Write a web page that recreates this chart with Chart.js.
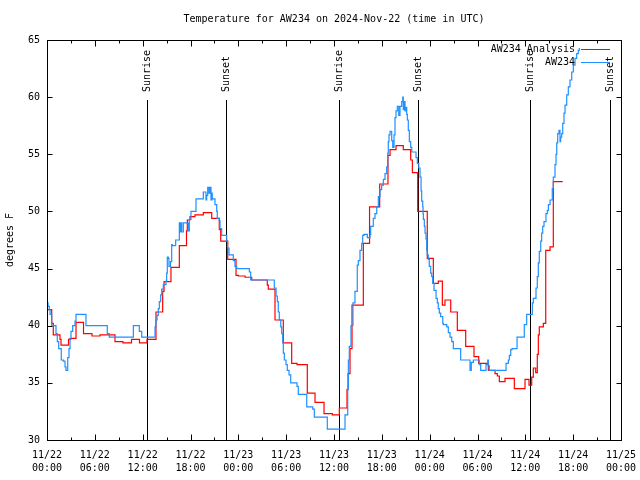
<!DOCTYPE html>
<html>
<head>
<meta charset="utf-8">
<title>Temperature for AW234</title>
<script src="https://cdn.jsdelivr.net/npm/chart.js@4.4.1/dist/chart.umd.min.js"></script>
<style>
  html, body { margin: 0; padding: 0; background: #fff; }
</style>
</head>
<body>
<canvas id="temp-chart" width="640" height="480"></canvas>
<script>
// hours are counted from 11/22 00:00 UTC

const xTickHours = [0, 6, 12, 18, 24, 30, 36, 42, 48, 54, 60, 66, 72];
const xTickDays = ["11/22", "11/22", "11/22", "11/22", "11/23", "11/23", "11/23", "11/23", "11/24", "11/24", "11/24", "11/24", "11/25"];
const xTickTimes = ["00:00", "06:00", "12:00", "18:00", "00:00", "06:00", "12:00", "18:00", "00:00", "06:00", "12:00", "18:00", "00:00"];
const yTicks = [30, 35, 40, 45, 50, 55, 60, 65];

const eventHours = [12.58, 22.49, 36.67, 46.58, 60.62, 70.58];
const eventNames = ["Sunrise", "Sunset", "Sunrise", "Sunset", "Sunrise", "Sunset"];

const analysisHours = [0, 0.59, 0.79, 1.63, 1.76, 2.70, 2.89, 3.64, 4.58, 5.64, 6.65, 8.53, 9.53, 10.60, 11.60, 12.54,
  13.67, 14.51, 14.68, 15.55, 16.60, 17.50, 17.60, 17.94, 18.56, 19.61, 20.66, 21.61, 21.79, 22.67, 23.71, 24.00,
  24.84, 25.68, 27.63, 27.76, 28.60, 29.64, 30.69, 31.36, 32.65, 33.62, 34.75, 35.79, 36.67, 37.63, 37.76, 38.01,
  38.26, 39.68, 40.46, 41.73, 42.77, 43.03, 43.78, 44.69, 45.62, 45.83, 46.50, 47.70, 48.46, 49.08, 49.59, 49.92,
  50.64, 51.47, 52.52, 53.56, 54.15, 55.36, 56.20, 56.49, 56.74, 57.45, 58.62, 59.96, 60.46, 60.80, 61.00, 61.30,
  61.50, 61.63, 61.75, 62.26, 62.56, 63.10, 63.51, 64.69];
const analysisTemps = [41.4, 40.2, 39.2, 38.8, 38.3, 38.8, 38.9, 40.3, 39.3, 39.1, 39.2, 38.6, 38.5, 38.8, 38.5, 38.8,
  41.2, 43.0, 43.85, 45.1, 47.0, 48.3, 49.25, 49.55, 49.7, 49.9, 49.4, 48.4, 47.4, 45.8, 44.4, 44.35,
  44.24, 44.0, 43.56, 43.2, 40.5, 38.5, 36.7, 36.6, 34.1, 33.3, 32.3, 32.2, 32.8, 34.4, 35.8, 38.0,
  41.8, 47.2, 50.4, 52.4, 54.9, 55.4, 55.75, 55.4, 54.5, 53.4, 50.0, 45.9, 43.7, 43.9, 41.8, 42.25,
  41.2, 39.6, 38.2, 37.3, 36.7, 36.1, 35.8, 35.6, 35.1, 35.4, 34.5, 35.3, 34.8, 35.5, 36.3, 35.9,
  37.5, 39.2, 39.9, 40.2, 46.6, 46.9, 52.6, 52.6];

const stationHours = [0, 0.13, 0.29, 0.38, 0.59, 1.13, 1.29, 1.47, 1.79, 2.04, 2.26, 2.38, 2.60, 2.76, 2.89, 3.01,
  3.22, 3.51, 3.64, 4.89, 7.56, 7.81, 10.83, 11.58, 11.88, 13.55, 13.67, 13.80, 13.96, 14.09, 14.26, 14.39,
  14.59, 14.93, 15.01, 15.09, 15.22, 15.30, 15.49, 15.64, 15.72, 16.14, 16.60, 16.68, 16.81, 16.90, 17.10, 17.72,
  17.85, 18.06, 18.69, 19.61, 19.94, 20.03, 20.16, 20.32, 20.45, 20.57, 20.70, 20.73, 21.07, 21.29, 21.36, 21.61,
  21.70, 21.91, 22.54, 22.64, 22.83, 23.37, 23.58, 23.80, 25.38, 25.55, 28.51, 28.73, 28.89, 29.01, 29.14, 29.32,
  29.44, 29.57, 29.64, 29.77, 29.98, 30.14, 30.36, 30.57, 31.36, 31.52, 32.58, 33.33, 33.53, 35.16, 37.38, 37.72,
  37.80, 37.92, 38.13, 38.38, 38.63, 38.92, 39.05, 39.26, 39.47, 39.60, 39.76, 40.18, 40.52, 40.60, 40.93, 41.14,
  41.36, 41.56, 41.77, 41.98, 42.19, 42.40, 42.61, 42.74, 42.81, 42.90, 43.03, 43.24, 43.37, 43.53, 43.65, 43.78,
  43.94, 44.12, 44.28, 44.49, 44.62, 44.69, 44.82, 44.91, 45.03, 45.12, 45.20, 45.32, 45.45, 45.62, 45.75, 46.29,
  46.45, 46.63, 46.79, 46.92, 47.00, 47.13, 47.17, 47.21, 47.33, 47.42, 47.54, 47.63, 47.70, 47.83, 47.95, 48.13,
  48.26, 48.38, 48.55, 48.80, 48.96, 49.08, 49.21, 49.38, 49.64, 49.71, 50.14, 50.34, 50.55, 50.77, 50.97, 51.89,
  53.06, 53.22, 53.48, 54.23, 54.40, 55.07, 55.28, 55.36, 55.48, 57.58, 57.87, 57.99, 58.17, 58.33, 58.96, 59.87,
  60.17, 60.88, 61.00, 61.34, 61.50, 61.63, 61.75, 61.93, 62.05, 62.18, 62.34, 62.59, 62.76, 62.89, 63.10, 63.38,
  63.51, 63.72, 63.85, 63.94, 64.06, 64.22, 64.35, 64.43, 64.56, 64.69, 64.85, 64.98, 65.19, 65.39, 65.60, 65.82,
  66.02, 66.23, 66.44, 66.64, 66.77];
const stationTemps = [42.0, 41.7, 41.4, 41.0, 40.0, 39.3, 38.6, 38.0, 37.0, 36.9, 36.4, 36.1, 37.2, 38.0, 38.8, 39.5,
  40.0, 40.4, 41.0, 40.0, 39.3, 39.0, 40.0, 39.5, 39.0, 39.9, 40.5, 40.9, 41.5, 42.1, 42.7, 43.2,
  43.6, 43.9, 44.6, 46.0, 45.9, 45.2, 45.6, 47.1, 47.0, 47.5, 49.0, 48.2, 49.0, 48.2, 49.0, 48.3,
  49.3, 50.0, 51.1, 51.7, 51.0, 51.4, 52.1, 51.6, 52.1, 51.0, 51.6, 51.1, 50.6, 50.0, 49.4, 49.2,
  48.5, 47.9, 47.4, 46.8, 46.2, 45.7, 45.2, 45.0, 44.7, 44.0, 43.3, 42.6, 42.1, 41.2, 40.5, 39.9,
  39.3, 38.5, 37.6, 37.0, 36.6, 36.1, 35.7, 35.0, 34.7, 34.0, 32.9, 32.7, 32.0, 30.95, 32.2, 34.5,
  37.0, 38.2, 40.0, 42.0, 43.0, 45.3, 45.7, 46.6, 47.2, 47.9, 48.0, 47.7, 48.0, 48.7, 49.4, 49.8,
  50.4, 51.3, 51.9, 52.3, 52.8, 53.3, 53.9, 55.1, 56.1, 56.7, 57.0, 56.2, 55.6, 56.7, 58.2, 58.8,
  59.2, 58.4, 59.2, 59.6, 60.0, 58.9, 59.6, 58.8, 59.1, 58.5, 58.0, 57.1, 56.1, 55.6, 55.2, 54.7,
  54.2, 53.8, 53.0, 51.8, 50.9, 50.4, 49.8, 49.3, 48.7, 48.1, 47.6, 46.6, 46.2, 45.8, 45.2, 44.6,
  44.3, 43.7, 43.1, 42.4, 42.0, 41.5, 41.1, 40.8, 40.2, 40.1, 39.9, 39.4, 39.0, 38.6, 38.0, 37.0,
  36.1, 36.8, 37.0, 36.6, 36.1, 36.6, 37.0, 36.5, 36.1, 36.7, 37.0, 37.4, 37.9, 38.0, 39.0, 40.1,
  41.0, 42.0, 42.4, 43.3, 44.3, 45.5, 46.5, 47.4, 48.1, 48.7, 49.1, 49.8, 50.1, 50.6, 51.0, 52.0,
  53.0, 54.1, 55.0, 56.0, 56.8, 57.1, 56.1, 56.5, 56.8, 57.7, 58.6, 59.3, 60.2, 60.9, 61.5, 62.2,
  62.8, 63.4, 63.8, 64.1, 64.3];

const FONT_FAMILY = "'DejaVu Sans Mono', 'Liberation Mono', monospace";
const baseFont = { family: FONT_FAMILY, size: 10, weight: 'normal' };

function toPoints(hours, temps) {
  return hours.map((h, i) => ({ x: h, y: temps[i] }));
}

// gnuplot style: frame, inward ticks, sunrise/sunset markers, key in the corner
const gnuplotLook = {
  id: 'gnuplotLook',
  beforeDatasetsDraw(chart) {
    const { ctx, chartArea: a, scales: { x } } = chart;
    ctx.save();
    ctx.strokeStyle = '#000';
    ctx.fillStyle = '#000';
    ctx.lineWidth = 1;
    ctx.font = `10px ${FONT_FAMILY}`;
    eventHours.forEach((h, i) => {
      const px = Math.round(x.getPixelForValue(h)) + 0.5;
      ctx.beginPath();
      ctx.moveTo(px, a.top + 60);
      ctx.lineTo(px, a.bottom);
      ctx.stroke();
      ctx.save();
      ctx.translate(px, a.top + 52);
      ctx.rotate(-Math.PI / 2);
      ctx.textAlign = 'left';
      ctx.textBaseline = 'middle';
      ctx.fillText(eventNames[i], 0, 0);
      ctx.restore();
    });
    ctx.restore();
  },
  afterDatasetsDraw(chart) {
    const { ctx, chartArea: a, scales: { x, y } } = chart;
    ctx.save();
    ctx.strokeStyle = '#000';
    ctx.lineWidth = 1;
    const L = Math.round(a.left) + 0.5, R = Math.round(a.right) + 0.5;
    const T = Math.round(a.top) + 0.5, B = Math.round(a.bottom) + 0.5;
    ctx.strokeRect(L, T, R - L, B - T);

    ctx.beginPath();
    xTickHours.forEach((h, i) => {
      const px = Math.round(x.getPixelForValue(h)) + 0.5;
      ctx.moveTo(px, B); ctx.lineTo(px, B - 6);
      ctx.moveTo(px, T); ctx.lineTo(px, T + 6);
      if (i < xTickHours.length - 1) {
        const mx = Math.round(x.getPixelForValue((h + xTickHours[i + 1]) / 2)) + 0.5;
        ctx.moveTo(mx, B); ctx.lineTo(mx, B - 3);
        ctx.moveTo(mx, T); ctx.lineTo(mx, T + 3);
      }
    });
    yTicks.forEach(v => {
      const py = Math.round(y.getPixelForValue(v)) + 0.5;
      ctx.moveTo(L, py); ctx.lineTo(L + 5, py);
      ctx.moveTo(R, py); ctx.lineTo(R - 5, py);
    });
    ctx.stroke();

    // key
    ctx.font = `10px ${FONT_FAMILY}`;
    ctx.textAlign = 'right';
    ctx.textBaseline = 'middle';
    ctx.fillStyle = '#000';
    chart.data.datasets.forEach((ds, i) => {
      const rowY = Math.round(a.top + 9 + i * 13) + 0.5;
      ctx.fillText(ds.label, a.right - 46, rowY);
      ctx.strokeStyle = ds.borderColor;
      ctx.beginPath();
      ctx.moveTo(a.right - 40, rowY);
      ctx.lineTo(a.right - 11, rowY);
      ctx.stroke();
    });
    ctx.restore();
  }
};

const ctx = document.getElementById('temp-chart').getContext('2d');
new Chart(ctx, {
  type: 'line',
  data: {
    datasets: [
      { label: 'AW234 Analysis', data: toPoints(analysisHours, analysisTemps), borderColor: '#ff0000',
        borderWidth: 1.2, pointRadius: 0, stepped: true, order: 1 },
      { label: 'AW234', data: toPoints(stationHours, stationTemps), borderColor: '#1e90ff',
        borderWidth: 1.2, pointRadius: 0, stepped: true, order: 0 }
    ]
  },
  options: {
    responsive: false,
    animation: false,
    devicePixelRatio: 1,
    layout: { padding: { top: 0, right: 19, bottom: 0, left: 0 } },
    plugins: {
      legend: { display: false },
      tooltip: { enabled: false },
      title: {
        display: true,
        fullSize: false,
        text: 'Temperature for AW234 on 2024-Nov-22 (time in UTC)',
        color: '#000',
        font: baseFont,
        padding: { top: 13, bottom: 15 }
      }
    },
    scales: {
      x: {
        type: 'linear',
        min: 0,
        max: 72,
        afterBuildTicks: s => { s.ticks = xTickHours.map(v => ({ value: v })); },
        afterFit: s => { s.height = 40; s.paddingLeft = 0; s.paddingRight = 0; },
        grid: { display: false, drawTicks: false },
        border: { display: false },
        ticks: {
          autoSkip: false,
          maxRotation: 0,
          padding: 9,
          color: '#000',
          font: { ...baseFont, lineHeight: 1.3 },
          callback: (v, i) => [xTickDays[i], xTickTimes[i]]
        }
      },
      y: {
        min: 30,
        max: 65,
        afterBuildTicks: s => { s.ticks = yTicks.map(v => ({ value: v })); },
        afterFit: s => { s.width = 47; s.paddingTop = 0; s.paddingBottom = 0; },
        grid: { display: false, drawTicks: false },
        border: { display: false },
        ticks: { padding: 7, color: '#000', font: baseFont },
        title: { display: true, text: 'degrees F', color: '#000', font: baseFont, padding: { top: 4, bottom: 0 } }
      }
    }
  },
  plugins: [gnuplotLook]
});
</script>
</body>
</html>
